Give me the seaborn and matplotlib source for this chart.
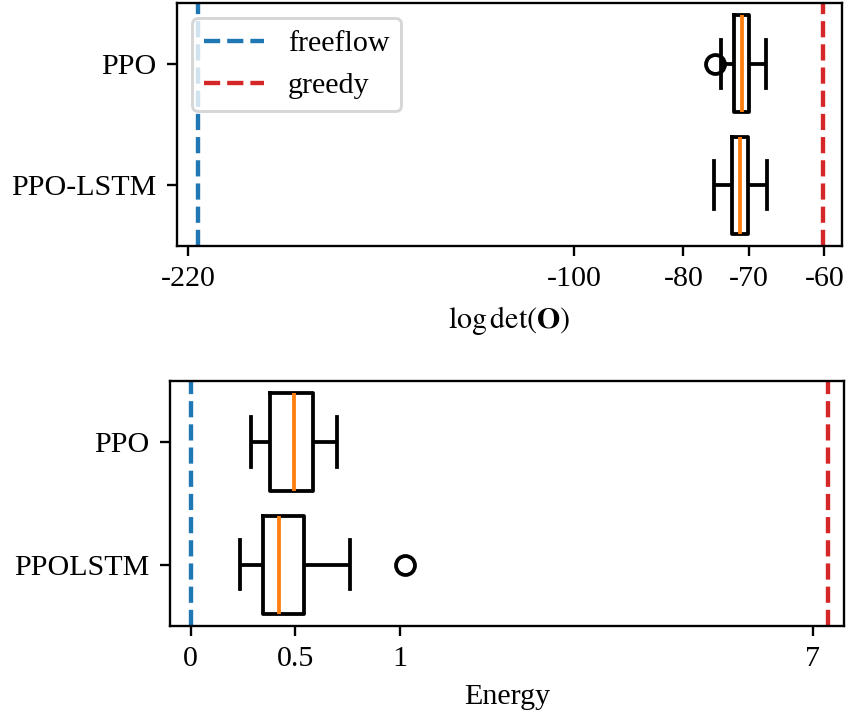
import numpy as np
import pandas as pd
import matplotlib
matplotlib.use("Agg")
import matplotlib.pyplot as plt
from matplotlib.ticker import NullLocator
import seaborn as sns

# ---------------- data ----------------
methods_top = ["PPO", "PPO-LSTM"]
# five-number summaries (with the outlier)
ppo_logdet = [-75.01, -74.05, -72.12, -72.12, -70.98, -70.01, -70.01, -67.55, -67.55]
ppolstm_logdet = [-75.22, -72.41, -71.23, -70.16, -67.41]
freeflow_logdet = -215.6
greedy_logdet = -60.2
top_ticks = [-220, -100, -80, -70, -60]
top_ticklabels = ["-220", "-100", "-80", "-70", "-60"]

methods_bot = ["PPO", "PPOLSTM"]
ppo_energy = [0.287, 0.379, 0.494, 0.584, 0.700]
ppolstm_energy = [0.237, 0.344, 0.344, 0.422, 0.422, 0.541, 0.541, 0.762, 1.027]
freeflow_energy = 0.0
greedy_energy = 7.51
bot_ticks = [0, 0.5, 1, 7]
bot_ticklabels = ["0", "0.5", "1", "7"]

# ---------------- style ----------------
plt.rcParams["font.family"] = ["Liberation Serif", "DejaVu Serif"]
plt.rcParams["mathtext.fontset"] = "stix"
plt.rcParams["font.size"] = 10.3

DPI = 210
fig = plt.figure(figsize=(849 / DPI, 719 / DPI), dpi=DPI)
ax1 = fig.add_axes([0.2081, 0.65828, 0.9914 - 0.2081, 0.99541 - 0.65828])
ax2 = fig.add_axes([0.19988, 0.12935, 0.99411 - 0.19988, 0.47051 - 0.12935])

box_kw = dict(
    orient="h", width=0.8, whis=1.3, fill=False, color="black", linewidth=1.3,
    medianprops=dict(color="#ff7f0e", linewidth=1.3),
    flierprops=dict(marker="o", markersize=6.5, markerfacecolor="none",
                    markeredgecolor="black", markeredgewidth=1.3),
)

df_top = pd.DataFrame({
    "method": ["PPO"] * len(ppo_logdet) + ["PPO-LSTM"] * len(ppolstm_logdet),
    "value": ppo_logdet + ppolstm_logdet,
})
df_bot = pd.DataFrame({
    "method": ["PPO"] * len(ppo_energy) + ["PPOLSTM"] * len(ppolstm_energy),
    "value": ppo_energy + ppolstm_energy,
})

sns.boxplot(data=df_top, x="value", y="method", order=methods_top, ax=ax1, **box_kw)
sns.boxplot(data=df_bot, x="value", y="method", order=methods_bot, ax=ax2, **box_kw)

# ---------------- top axis: -log(-x) scale ----------------
def f_top(x):
    x = np.asarray(x, dtype=float)
    return -np.log(np.clip(-x, 1e-300, None))

def finv_top(y):
    return -np.exp(-np.asarray(y, dtype=float))

ax1.axvline(freeflow_logdet, color="#1f77b4", ls="--", lw=1.5, label="freeflow")
ax1.axvline(greedy_logdet, color="#d62728", ls="--", lw=1.5, label="greedy")
ax1.set_xscale("function", functions=(f_top, finv_top))
ax1.set_xlim(-225.3, -57.9)
ax1.set_xticks(top_ticks)
ax1.set_xticklabels(top_ticklabels)
ax1.xaxis.set_minor_locator(NullLocator())
ax1.set_xlabel(r"$\log\det(\mathbf{O})$")
ax1.set_ylabel("")
ax1.legend(loc="upper left")

# ---------------- bottom axis: linear to 1, log beyond ----------------
K = 1.0155

def f_bot(x):
    x = np.asarray(x, dtype=float)
    return np.where(x <= 1, x, 1 + K * np.log(np.maximum(x, 1)))

def finv_bot(y):
    y = np.asarray(y, dtype=float)
    return np.where(y <= 1, y, np.exp((np.maximum(y, 1) - 1) / K))

ax2.axvline(freeflow_energy, color="#1f77b4", ls="--", lw=1.5)
ax2.axvline(greedy_energy, color="#d62728", ls="--", lw=1.5)
ax2.set_xscale("function", functions=(f_bot, finv_bot))
ax2.set_xlim(-0.1005, 8.11)
ax2.set_xticks(bot_ticks)
ax2.set_xticklabels(bot_ticklabels)
ax2.xaxis.set_minor_locator(NullLocator())
ax2.set_xlabel("Energy")
ax2.set_ylabel("")

fig.savefig("out.png", dpi=DPI)
